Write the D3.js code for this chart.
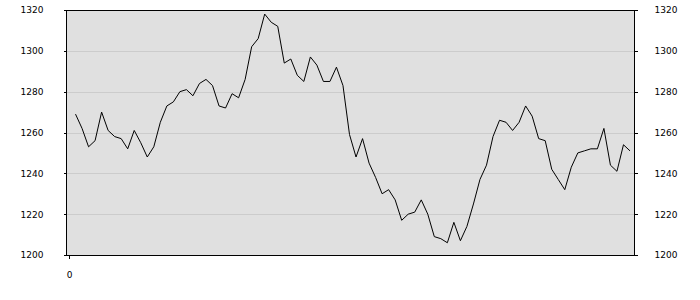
<!DOCTYPE html>
<html>
<head>
<meta charset="utf-8">
<script src="https://cdn.jsdelivr.net/npm/d3@7"></script>
<style>
  body { margin: 0; background: #fff; }
  svg { display: block; }
  .tick text { font-family: "DejaVu Sans", Verdana, sans-serif; font-size: 9px; fill: #000; }
</style>
</head>
<body>
<svg width="700" height="300"></svg>
<script>
// values, one per step (index 1..86)
const values = [
  1269, 1262, 1253, 1256, 1270, 1261, 1258, 1257, 1252, 1261,
  1255, 1248, 1253, 1265, 1273, 1275, 1280, 1281, 1278, 1284,
  1286, 1283, 1273, 1272, 1279, 1277, 1286, 1302, 1306, 1318,
  1314, 1312, 1294, 1296, 1288, 1285, 1297, 1293, 1285, 1285,
  1292, 1283, 1259, 1248, 1257, 1245, 1238, 1230, 1232, 1227,
  1217, 1220, 1221, 1227, 1220, 1209, 1208, 1206, 1216, 1207,
  1214, 1225, 1237, 1244, 1258, 1266, 1265, 1261, 1265, 1273,
  1268, 1257, 1256, 1242, 1237, 1232, 1243, 1250, 1251, 1252,
  1252, 1262, 1244, 1241, 1254, 1251
];
const yTicks = [1200, 1220, 1240, 1260, 1280, 1300, 1320];
const xTicks = [0];

const svg = d3.select('svg');
const plotL = 66.5, plotR = 634.5, plotT = 10.5, plotB = 255.5;

const x = d3.scaleLinear()
  .domain([0, values.length])
  .range([69, 630]);

const y = d3.scaleLinear()
  .domain([1200, 1320])
  .range([255, 10]);

// plot background
svg.append('rect')
  .attr('x', plotL).attr('y', plotT)
  .attr('width', plotR - plotL).attr('height', plotB - plotT)
  .attr('fill', '#e0e0e0');

// gridlines
svg.append('g')
  .selectAll('line')
  .data(yTicks.slice(1, -1))
  .enter()
  .append('line')
    .attr('x1', plotL).attr('x2', plotR)
    .attr('y1', d => Math.round(y(d)) + 0.5)
    .attr('y2', d => Math.round(y(d)) + 0.5)
    .attr('stroke', '#cccccc')
    .attr('shape-rendering', 'crispEdges');

// the series
const line = d3.line()
  .x((d, i) => x(i + 1))
  .y(d => y(d));

svg.append('path')
  .datum(values)
  .attr('d', line)
  .attr('fill', 'none')
  .attr('stroke', '#000')
  .attr('stroke-width', 1);

// frame
svg.append('rect')
  .attr('x', plotL).attr('y', plotT)
  .attr('width', plotR - plotL).attr('height', plotB - plotT)
  .attr('fill', 'none')
  .attr('stroke', '#000')
  .attr('shape-rendering', 'crispEdges');

// axes
const yLeft = svg.append('g')
  .attr('transform', `translate(${plotL},0)`)
  .call(d3.axisLeft(y).tickValues(yTicks).tickSize(3).tickPadding(20).tickFormat(d3.format('d')));
const yRight = svg.append('g')
  .attr('transform', `translate(${plotR},0)`)
  .call(d3.axisRight(y).tickValues(yTicks).tickSize(3).tickPadding(17).tickFormat(d3.format('d')));
const xAxis = svg.append('g')
  .attr('transform', `translate(0,${plotB})`)
  .call(d3.axisBottom(x).tickValues(xTicks).tickSize(3).tickPadding(13));

[yLeft, yRight, xAxis].forEach(g => {
  g.select('.domain').remove();
  g.selectAll('.tick line').attr('stroke', '#000').attr('shape-rendering', 'crispEdges');
});
</script>
</body>
</html>
